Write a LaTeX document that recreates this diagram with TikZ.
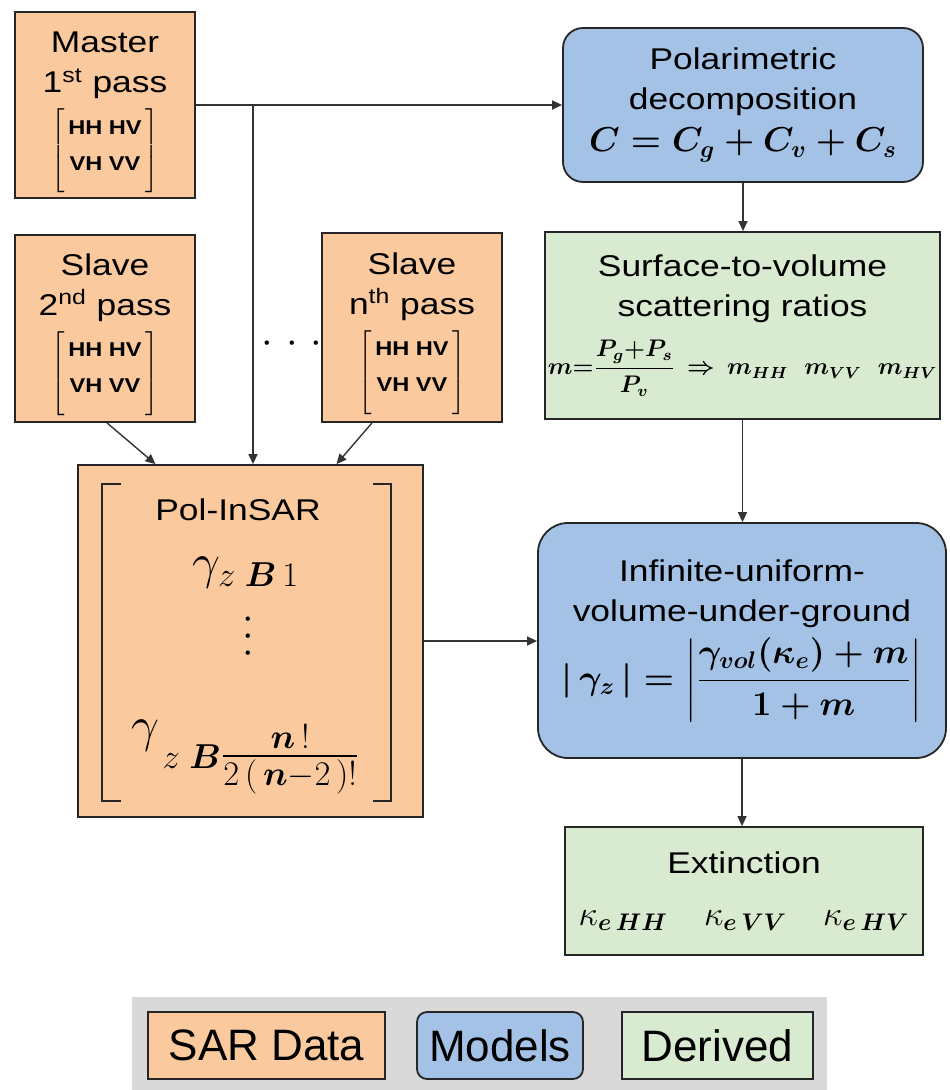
\documentclass[tikz,border=0pt]{standalone}
\usepackage{amsmath,amssymb}
\usepackage[no-math]{fontspec}
\setmainfont{Liberation Sans}[FakeStretch=1.18]
\newfontfamily\legfont{Liberation Sans}
\usepackage{xcolor}
\usetikzlibrary{calc,arrows.meta}

\definecolor{sarfill}{RGB}{250,202,158}
\definecolor{modfill}{RGB}{164,194,230}
\definecolor{derfill}{RGB}{216,234,208}
\definecolor{legfill}{RGB}{217,217,217}

% polarimetric scattering matrix shown in the SAR data boxes
\newcommand{\polmat}{{\fontsize{10}{11}\selectfont\bfseries
  $\left[\begin{tabular}{@{\,}c@{\,}}\rule{0pt}{12pt}HH HV\\[7pt]VH VV\rule[-11pt]{0pt}{11pt}\end{tabular}\right]$}}

\begin{document}
\begin{tikzpicture}[x=0.5pt,y=-0.5pt,
  sar/.style={draw=black!85,line width=0.9pt,fill=sarfill,align=center,inner sep=0pt},
  model/.style={draw=black!85,line width=0.9pt,fill=modfill,rounded corners=10pt,align=center,inner sep=0pt},
  derived/.style={draw=black!85,line width=0.9pt,fill=derfill,align=center,inner sep=0pt},
  box/.style={font=\fontsize{15}{20}\selectfont},
  leg/.style={font=\legfont\fontsize{22}{24}\selectfont},
  bracket/.style={black!85,line width=1.1pt},
  wire/.style={black!80,line width=0.7pt,-{Triangle[length=5pt,width=4.5pt]}}]
\useasboundingbox (0,0) rectangle (949,1090);
% SAR data
\node[sar,box,minimum width=90pt,minimum height=93pt] (master) at (105,105) {\rule{0pt}{18pt}Master\\1\textsuperscript{st} pass\\[4pt]\polmat};
\node[sar,box,minimum width=90pt,minimum height=93.5pt] (slave2) at (105,328.5) {\rule{0pt}{17pt}Slave\\2\textsuperscript{nd} pass\\[4pt]\polmat};
\node[sar,box,minimum width=90pt,minimum height=94.5pt] (slaven) at (412,327.5) {\rule{0pt}{17pt}Slave\\n\textsuperscript{th} pass\\[4pt]\polmat};
\node[font=\fontsize{20}{20}\selectfont] (dots) at (292,344) {$\cdot\hskip2pt\cdot\hskip2pt\cdot$};
\node[sar,minimum width=172.5pt,minimum height=176pt] (polin) at (250.5,641) {};
\node[box] (poltxt) at (238,510) {Pol-InSAR};
\node[font=\fontsize{23}{26}\selectfont] (g1) at (246,573) {$\gamma_{z\;\boldsymbol{B}\,1}$};
\node[align=center,inner sep=0pt,font={\fontsize{22}{8.5}\selectfont\lineskiplimit=-20pt}] (gdots) at (248,637) {$\cdot$\\$\cdot$\\$\cdot$};
\node[font=\fontsize{23}{26}\selectfont] (gn) at (246,757) {$\gamma_{\,z\;\boldsymbol{B}\textstyle\frac{\boldsymbol{n}\,!}{2\,(\,\boldsymbol{n}-2\,)!}}$};
\draw[bracket] ($(polin.north west)+(44,20)$) -- ++(-19,0) -- ++(0,317) -- ++(19,0);
\draw[bracket] ($(polin.north east)+(-51,20)$) -- ++(18,0) -- ++(0,317) -- ++(-18,0);
% models and derived quantities
\node[model,box,minimum width=180pt,minimum height=77pt] (polar) at (743,105) {Polarimetric\\decomposition\\[1pt]{\fontsize{17}{20}\selectfont$\boldsymbol{C = C_g + C_v + C_s}$}};
\node[derived,box,minimum width=197.5pt,minimum height=93.5pt] (surf) at (742.5,325.5) {Surface-to-volume\\scattering ratios\\[8pt]{\fontsize{12}{14}\selectfont$\boldsymbol{m{=}\dfrac{P_g{+}P_s}{P_v}\,\Rightarrow\, m_{HH}\hspace{8pt}m_{VV}\hspace{8pt}m_{HV}}$}};
\node[model,box,rounded corners=15pt,minimum width=204pt,minimum height=117.5pt] (inf) at (742,640.5) {Infinite-uniform-\\volume-under-ground\\[4pt]{\fontsize{17}{20}\selectfont$\boldsymbol{|\,\gamma_z\,| = \left|\dfrac{\gamma_{vol}(\kappa_e)+m}{1+m}\right|}$}};
\node[derived,box,minimum width=179pt,minimum height=64pt] (ext) at (744,891) {Extinction\\[6pt]{\fontsize{17}{18}\selectfont$\kappa_{\boldsymbol{e\,HH}}\hspace{18pt}\kappa_{\boldsymbol{e\,VV}}\hspace{18pt}\kappa_{\boldsymbol{e\,HV}}$}};
% connectors
\coordinate (jn) at (253,105);
\draw[wire] (master.east) -- (polar.west);
\draw[wire] (jn) -- (jn |- polin.north);
\draw[wire] ($(slave2.south)+(2,0)$) -- ($(polin.north)+(-95,0)$);
\draw[wire] ($(slaven.south)+(-40,0)$) -- ($(polin.north)+(86,0)$);
\draw[wire] (polar.south) -- (polar.south |- surf.north);
\draw[wire] (surf.south) -- (surf.south |- inf.north);
\draw[wire] (inf.south) -- (inf.south |- ext.north);
\draw[wire] (polin.east) -- (polin.east -| inf.west);
% legend
\fill[legfill] (132,997) rectangle (827,1090);
\node[sar,leg,minimum width=118.5pt,minimum height=33.5pt] (lsar) at (266.5,1045.5) {SAR Data};
\node[model,leg,rounded corners=5pt,minimum width=83pt,minimum height=33.5pt] (lmod) at (500,1045.5) {Models};
\node[derived,leg,minimum width=95.5pt,minimum height=33.5pt] (lder) at (717.5,1045.5) {Derived};
\end{tikzpicture}
\end{document}
